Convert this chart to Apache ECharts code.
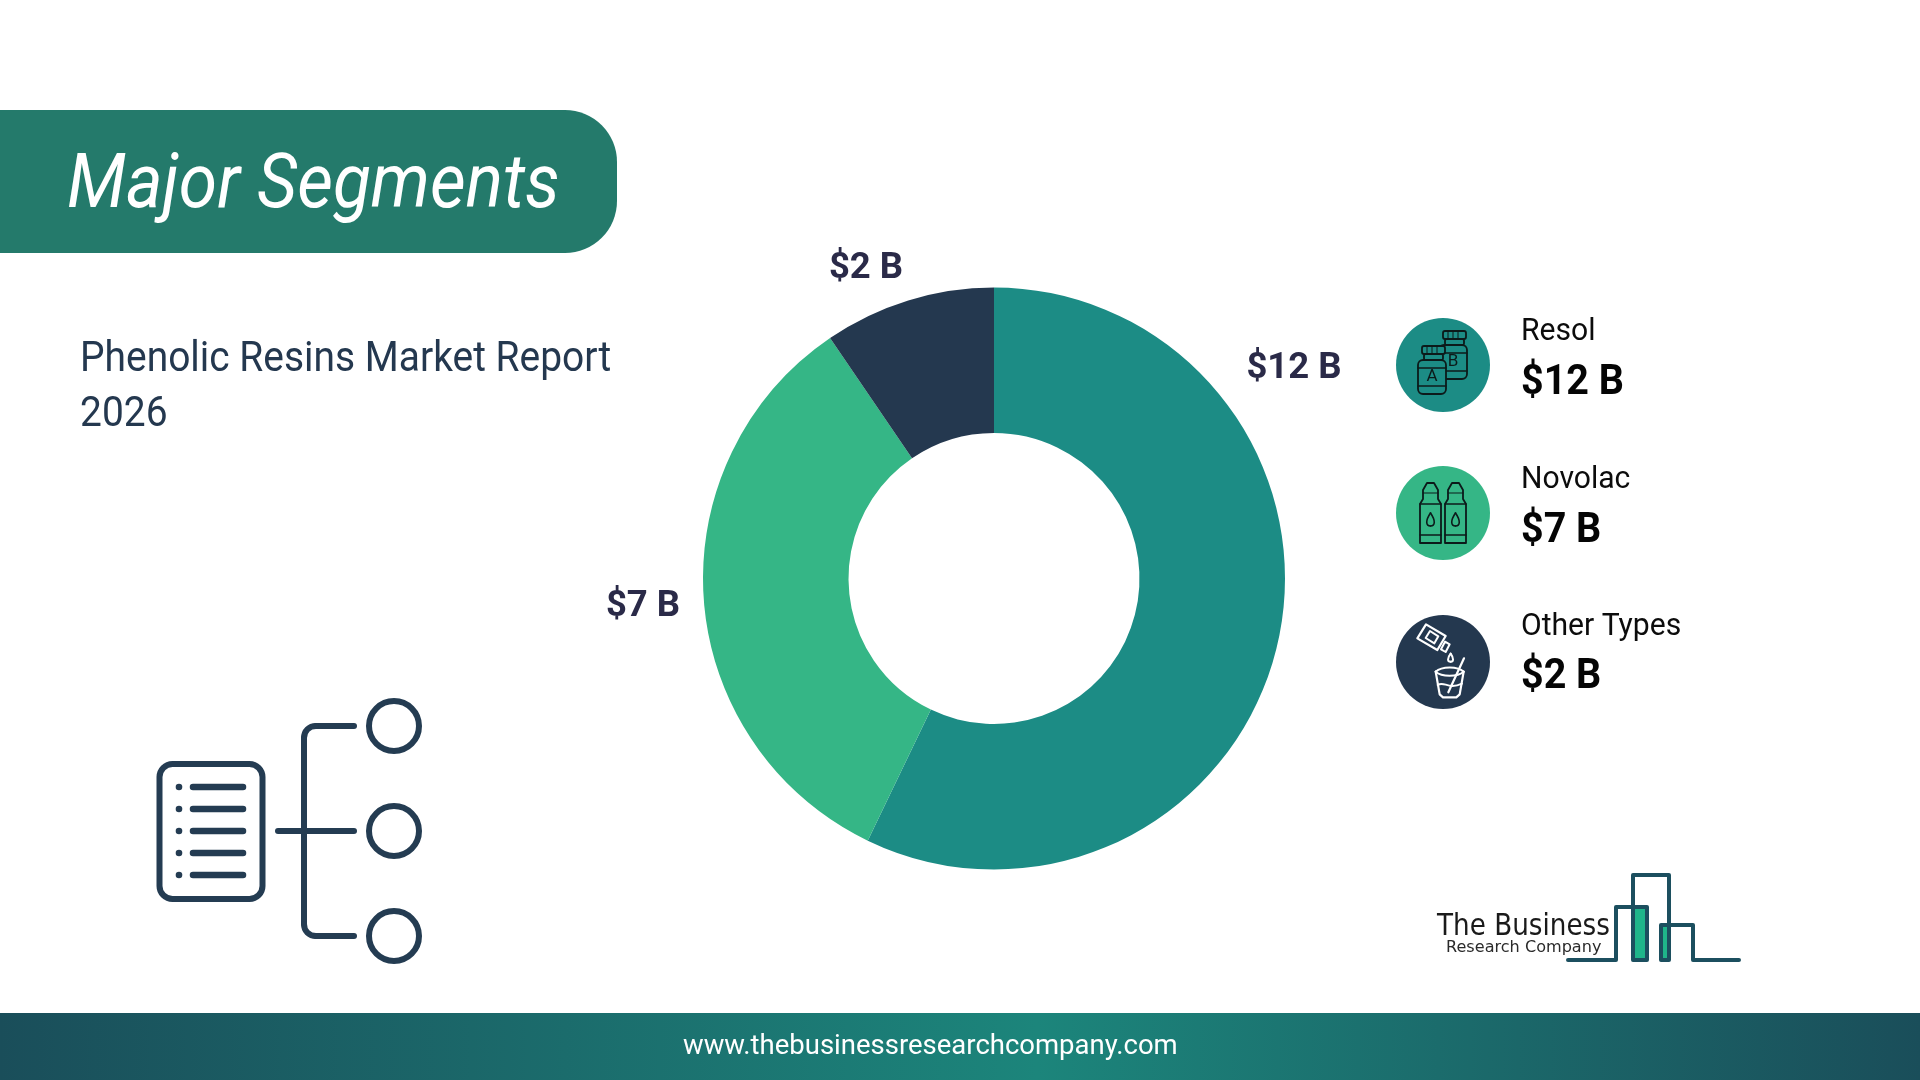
<!DOCTYPE html>
<html><head><meta charset="utf-8">
<style>html,body{margin:0;padding:0;background:#fff}#c{width:1920px;height:1080px}</style>
<script src="https://cdn.jsdelivr.net/npm/echarts@6/dist/echarts.min.js"></script>
</head><body><div id="c"></div>
<script>
const categories = ['Resol', 'Novolac', 'Other Types'];
const values = [12, 7, 2];
const valueLabels = ['$12 B', '$7 B', '$2 B'];
const sliceColors = ['#1c8c85', '#35b686', '#24384f'];
const titleText = 'Major Segments';
const subtitleLines = ['Phenolic Resins Market Report', '2026'];
const footerText = 'www.thebusinessresearchcompany.com';

const NAVY = '#243c52', INK = '#0c1a1a';
const labelPos = [[1294, 369], [643, 607], [866, 269]];
const legendY = [365, 513, 662];
const legendX = 1443, legendTextX = 1521;
const nameY = [332, 480, 627], valY = [383, 531, 677];
const els = [];
const T = (text, x, y, font, fill, sx, align) => els.push({type:'text', silent:true, x, y, scaleX:sx||1, style:{text, x:0, y:0, font, fill, align:align||'left', verticalAlign:'middle'}});
const line = (pts, color, w, closed) => els.push({type: closed?'polygon':'polyline', silent:true, shape:{points:pts}, style:{stroke:color, lineWidth:w, fill:'none', lineCap:'round', lineJoin:'round'}});
const rr = (x,y,w,h,r,stroke,lw,fill) => els.push({type:'rect', silent:true, shape:{x,y,width:w,height:h,r}, style:{stroke:stroke||'none', lineWidth:lw||0, fill:fill||'none'}});
const circ = (cx,cy,r,fill,stroke,lw) => els.push({type:'circle', silent:true, shape:{cx,cy,r}, style:{fill:fill||'none', stroke:stroke||'none', lineWidth:lw||0}});
const bez = (x1,y1,cx1,cy1,cx2,cy2,x2,y2,color,w) => els.push({type:'bezierCurve', silent:true, shape:{x1,y1,cpx1:cx1,cpy1:cy1,cpx2:cx2,cpy2:cy2,x2,y2}, style:{stroke:color,lineWidth:w,fill:'none',lineCap:'round'}});

// banner + footer
els.push({type:'rect', silent:true, shape:{x:0,y:110,width:617,height:143,r:[0,52,52,0]}, style:{fill:'#247a6b'}});
els.push({type:'rect', silent:true, shape:{x:0,y:1013,width:1920,height:67}, style:{fill:{type:'linear',x:0,y:0,x2:1,y2:0,colorStops:[{offset:0,color:'#1a4e5a'},{offset:0.54,color:'#1c857b'},{offset:1,color:'#1a4e5a'}]}}});
T(titleText, 67, 188, 'italic 400 76px Roboto', '#fff', 0.915);
T(subtitleLines[0], 80, 360, '400 42px Roboto', '#24384f', 0.927);
T(subtitleLines[1], 80, 415, '400 42px Roboto', '#24384f', 0.927);
T(footerText, 683, 1047, '400 27.5px Roboto', '#ffffff');

// left tree icon
rr(159.5,764,103,135,13,NAVY,6);
[787,809,831,853,875].forEach(y=>{circ(179,y,3.3,NAVY); line([[193,y],[243,y]],NAVY,6.5);});
line([[278,831],[354,831]],NAVY,6);
line([[354,726],[316,726]],NAVY,6);
bez(316,726,309,726,304,731,304,738,NAVY,6);
line([[304,738],[304,924]],NAVY,6);
bez(304,924,304,931,309,936,316,936,NAVY,6);
line([[316,936],[354,936]],NAVY,6);
[726,831,936].forEach(y=>circ(394,y,25,'none',NAVY,6));

// legend
categories.forEach((c,i)=>{
  circ(legendX,legendY[i],47,sliceColors[i]);
  T(c, legendTextX, nameY[i], '400 32px Roboto', '#0c0c0c', 0.94);
  T(valueLabels[i], legendTextX, valY[i], '700 42px Roboto', '#050505', 0.94);
});
// jars
function jar(x,y,letter){
  rr(x+4,y+8,19,6,1.5,INK,1.8,sliceColors[0]);
  rr(x+2,y,23,8,2,INK,1.8,sliceColors[0]);
  [7,12,17].forEach(d=>line([[x+d,y+1],[x+d,y+7]],INK,1));
  rr(x-2,y+14,28,34,5,INK,1.8,sliceColors[0]);
  line([[x-2,y+22],[x+26,y+22]],INK,1.4);
  line([[x-2,y+40],[x+26,y+40]],INK,1.4);
  T(letter,x+12,y+31,'400 17px Roboto',INK,1,'center');
}
jar(1441,331,'B'); jar(1420,346,'A');
// novolac bottles
[1420,1445].forEach(x=>{
  line([[x,543],[x,504],[x+3,499],[x+3,490],[x+7,483],[x+14,483],[x+18,490],[x+18,499],[x+21,504],[x+21,543]],INK,1.8,1);
  line([[x,504],[x+21,504]],INK,1.5);
  line([[x+3,493],[x+18,493]],INK,1.2);
  line([[x,535],[x+21,535]],INK,1.5);
  bez(x+10.5,513,x+5,521,x+6,526,x+10.5,526,INK,1.6);
  bez(x+10.5,513,x+16,521,x+15,526,x+10.5,526,INK,1.6);
});
// other types
const W='#ffffff', z=(a,b)=>[1385+a/3,605+b/3];
line([z(123,58),z(182,93),z(157,135),z(97,100)],W,2.2,1);
line([z(135,78),z(160,94),z(148,115),z(122,99)],W,2,1);
line([z(180,110),z(194,118),z(182,141),z(168,133)],W,2,1);
bez(1385+197/3,605+146/3,1385+186/3,605+160/3,1385+187/3,605+170/3,1385+197/3,605+170/3,W,2);
bez(1385+197/3,605+146/3,1385+207/3,605+160/3,1385+206/3,605+170/3,1385+197/3,605+170/3,W,2);
line([z(237,160),z(190,262)],W,2.2);
bez(1385+152/3,605+200/3,1385+170/3,605+183/3,1385+218/3,605+183/3,1385+236/3,605+200/3,W,2);
bez(1385+152/3,605+200/3,1385+170/3,605+216/3,1385+218/3,605+216/3,1385+236/3,605+200/3,W,2);
line([z(152,200),z(164,268),z(174,277),z(214,277),z(224,268),z(236,200)],W,2.2);
bez(1385+158/3,605+240/3,1385+178/3,605+226/3,1385+188/3,605+256/3,1385+231/3,605+236/3,W,2);

// logo
const LC='#1c4f5f', LG='#1fb58a';
rr(1633,907,14,53,0,null,0,LG); rr(1661,925,8,35,0,null,0,LG);
line([[1568,960],[1616,960],[1616,907],[1647,907],[1647,960],[1633,960],[1633,875],[1669,875],[1669,960],[1661,960],[1661,925],[1693,925],[1693,960],[1739,960]],LC,4);
T('The Business',1437,927,'400 30px "DejaVu Sans"','#1a1a1a',0.875);
T('Research Company',1446,948,'400 16.5px "DejaVu Sans"','#2a2a2a',0.975);

const chart = echarts.init(document.getElementById('c'), null, {renderer:'canvas'});
chart.setOption({
  animation:false,
  backgroundColor:'#fff',
  graphic:{elements:els},
  series:[{
    type:'pie', radius:[145.5,291], center:[994,578.5], startAngle:90, clockwise:true,
    silent:true, avoidLabelOverlap:false,
    data: categories.map((c,i)=>({name:c, value:values[i], itemStyle:{color:sliceColors[i]}, label:{formatter:valueLabels[i]}})),
    label:{show:true, position:'outside', fontFamily:'Roboto', fontWeight:700, fontSize:36.5, color:'#2a2a48'},
    labelLine:{show:false},
    labelLayout:p=>({x:labelPos[p.dataIndex][0], y:labelPos[p.dataIndex][1], align:'center', verticalAlign:'middle'})
  }]
});
</script></body></html>
